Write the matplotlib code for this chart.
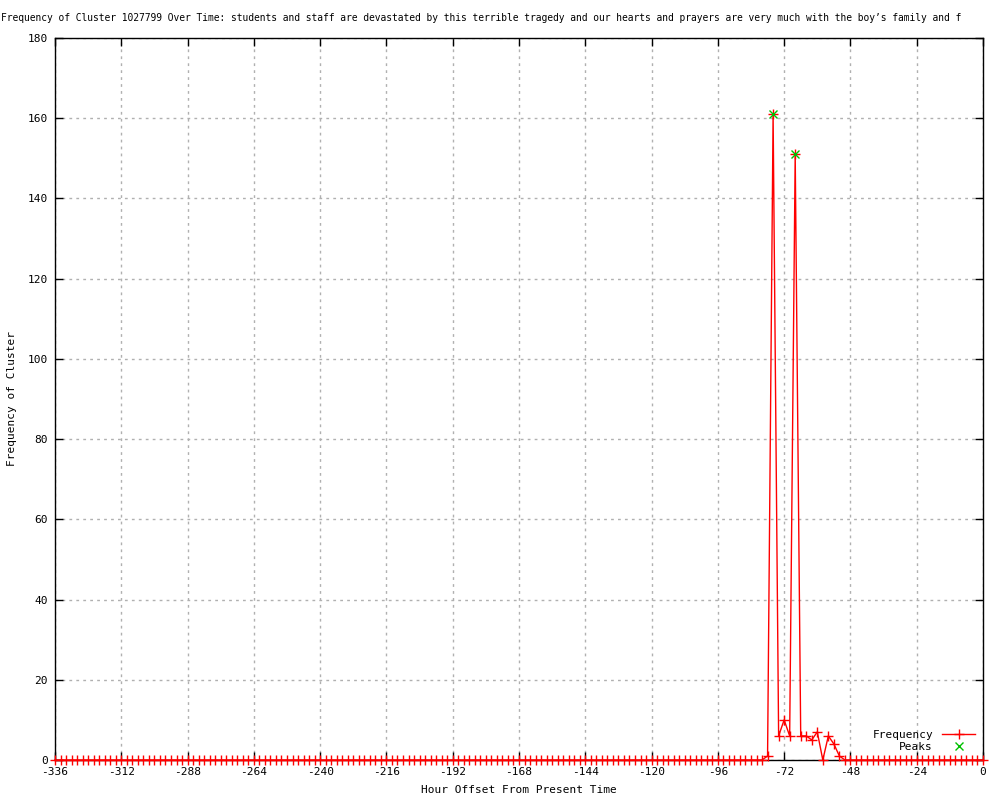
import numpy as np
import matplotlib
matplotlib.use('Agg')
from matplotlib import pyplot as plt

# hours from -336 to 0, every 2 hours; zero except around the event
hours = list(range(-336, 1, 2))
nonzero = {-78: 1, -76: 161, -74: 6, -72: 10, -70: 6, -68: 151, -66: 6,
           -64: 6, -62: 5, -60: 7, -58: 0, -56: 6, -54: 4, -52: 1}
freq = [nonzero.get(h, 0) for h in hours]

peak_hours = [-76, -68]
peak_vals = [161, 151]

title = ("Frequency of Cluster 1027799 Over Time: students and staff are devastated by this "
         "terrible tragedy and our hearts and prayers are very much with the boy\u2019s family and f")

plt.rcParams['font.family'] = ['DejaVu Sans Mono']
plt.rcParams['font.size'] = 8
plt.rcParams['axes.unicode_minus'] = False

fig = plt.figure(figsize=(10, 8), dpi=100)
ax = fig.add_axes([0.055, 0.05, 0.928, 0.9025])

ax.plot(hours, freq, color='red', lw=1, marker='+', ms=7, mew=1,
        label='Frequency', clip_on=False, zorder=3)
ax.plot(peak_hours, peak_vals, ls='none', marker='x', color='#00c000', ms=6, mew=1,
        label='Peaks', zorder=4)

ax.set_xlim(-336, 0)
ax.set_ylim(0, 180)
ax.set_xticks(range(-336, 1, 24))
ax.set_yticks(range(0, 181, 20))
ax.grid(True, color='#b0b0b0', ls=(0, (2, 3)), lw=1)
ax.tick_params(direction='in', top=True, right=True, length=6, width=1,
               labelsize=8, pad=5)
for s in ax.spines.values():
    s.set_linewidth(1)

ax.set_xlabel('Hour Offset From Present Time', fontsize=8, labelpad=6)
ax.set_ylabel('Frequency of Cluster', fontsize=8, labelpad=8)

fig.text(0.001, 0.978, title, ha='left', va='center', fontsize=6.95)

leg = ax.legend(loc='lower right', markerfirst=False, frameon=False, fontsize=8,
                handlelength=3, borderaxespad=0.3, labelspacing=0.2)

fig.savefig('out.png', dpi=100)
